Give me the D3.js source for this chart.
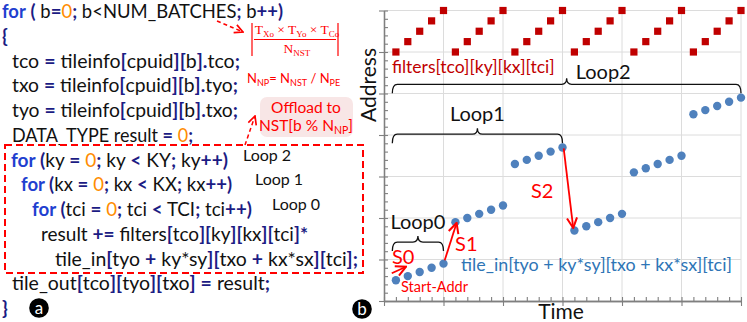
<!DOCTYPE html>
<html>
<head>
<meta charset="utf-8">
<script src="https://cdn.jsdelivr.net/npm/d3@7"></script>
<style>
body { margin: 0; background: #fff; }
text { font-family: Lato, "Open Sans", sans-serif; }
</style>
</head>
<body>
<svg id="fig" width="747" height="322"></svg>
<script>
// ---- panel b data ----
var steps = d3.range(1, 31);
var inputAddr = [2.5, 3, 3.5, 4, 4.5,
                 9.5, 10, 10.5, 11, 11.5,
                 16.5, 17, 17.5, 18, 18.5,
                 8.5, 9, 9.5, 10, 10.5,
                 15.5, 16, 16.5, 17, 17.5,
                 22.5, 23, 23.5, 24, 24.5];
var filterAddr = [30, 31.25, 32.5, 33.75, 35,
                  30, 31.25, 32.5, 33.75, 35,
                  30, 31.25, 32.5, 33.75, 35,
                  30, 31.25, 32.5, 33.75, 35,
                  30, 31.25, 32.5, 33.75, 35,
                  30, 31.25, 32.5, 33.75, 35];
var loops = [
  {name: "Loop0", from: 0.7, to: 5,  at: 7.1,  labelShift: 0, labelUp: 13},
  {name: "Loop1", from: 0.7, to: 15, at: 20.1, labelShift: 0, labelUp: 13},
  {name: "Loop2", from: 0.7, to: 30, at: 26.1, labelShift: 9, labelUp: 5}
];
var strides = [
  {name: "S0", t0: 0.65, a0: 3.34, t1: 1.85, a1: 4.13, lt: 0.67, la: 4.46},
  {name: "S1", t0: 5.1,  a0: 4.9,  t1: 6.1,  a1: 9.4,  lt: 5.97, la: 6.02},
  {name: "S2", t0: 15.1, a0: 18.4, t1: 15.9, a1: 8.8,  lt: 12.35, la: 12.4}
];

// ---- panel a: code listing, segments [text, kind] ----
var code = [
  [["for", "k"], [" ", "t"], ["(", "p"], [" b", "t"], ["=", "p"], ["0", "n"], [";", "p"], [" b<NUM_BATCHES", "t"], [";", "p"], [" b", "t"], ["++)", "p"]],
  [["{", "p"]],
  [["tco ", "t"], ["=", "p"], [" tileinfo", "t"], ["[", "p"], ["cpuid", "t"], ["][", "p"], ["b", "t"], ["].", "p"], ["tco", "t"], [";", "p"]],
  [["txo ", "t"], ["=", "p"], [" tileinfo", "t"], ["[", "p"], ["cpuid", "t"], ["][", "p"], ["b", "t"], ["].", "p"], ["tyo", "t"], [";", "p"]],
  [["tyo ", "t"], ["=", "p"], [" tileinfo", "t"], ["[", "p"], ["cpuid", "t"], ["][", "p"], ["b", "t"], ["].", "p"], ["txo", "t"], [";", "p"]],
  [["DATA_TYPE result ", "t"], ["=", "p"], [" ", "t"], ["0", "n"], [";", "p"]],
  [["for", "k"], [" (", "p"], ["ky ", "t"], ["=", "p"], [" ", "t"], ["0", "n"], [";", "p"], [" ky ", "t"], ["<", "p"], [" KY", "t"], [";", "p"], [" ky", "t"], ["++)", "p"]],
  [["for", "k"], [" (", "p"], ["kx ", "t"], ["=", "p"], [" ", "t"], ["0", "n"], [";", "p"], [" kx ", "t"], ["<", "p"], [" KX", "t"], [";", "p"], [" kx", "t"], ["++)", "p"]],
  [["for", "k"], [" (", "p"], ["tci ", "t"], ["=", "p"], [" ", "t"], ["0", "n"], [";", "p"], [" tci ", "t"], ["<", "p"], [" TCI", "t"], [";", "p"], [" tci", "t"], ["++)", "p"]],
  [["result ", "t"], ["+=", "p"], [" filters", "t"], ["[", "p"], ["tco", "t"], ["][", "p"], ["ky", "t"], ["][", "p"], ["kx", "t"], ["][", "p"], ["tci", "t"], ["]*", "p"]],
  [["tile_in", "t"], ["[", "p"], ["tyo ", "t"], ["+", "p"], [" ky*sy", "t"], ["][", "p"], ["txo ", "t"], ["+", "p"], [" kx*sx", "t"], ["][", "p"], ["tci", "t"], ["];", "p"]],
  [["tile_out", "t"], ["[", "p"], ["tco", "t"], ["][", "p"], ["tyo", "t"], ["][", "p"], ["txo", "t"], ["]", "p"], [" ", "t"], ["=", "p"], [" result", "t"], [";", "p"]],
  [["}", "p"]]
];
var indent  = [2, 2, 12, 12, 12, 12, 11, 21, 32, 41, 55, 12, 2];
var lineEnd = [283, 0, 240, 238, 238, 193, 228, 232, 252, 308, 358, 270, 0];
var loopNotes = [{name: "Loop 2", line: 6, x: 243}, {name: "Loop 1", line: 7, x: 255}, {name: "Loop 0", line: 8, x: 272}];

var colors = {k: "#1f3fd0", p: "#1c1c84", n: "#ff8c00", t: "#111"};
var RED = "#ff0000", DARKRED = "#c00000", BLUE = "#4f81bd", TXTBLUE = "#2e75b6";

var svg = d3.select("#fig");
var defs = svg.append("defs");
function arrowMarker(id, col) {
  defs.append("marker").attr("id", id)
    .attr("viewBox", "0 0 10 10").attr("refX", 9).attr("refY", 5)
    .attr("markerWidth", 7).attr("markerHeight", 7).attr("orient", "auto")
    .append("path").attr("d", "M1,1 L9,5 L1,9")
    .attr("fill", "none").attr("stroke", col).attr("stroke-width", 1.6);
}
arrowMarker("arr", RED);

// ================= panel a =================
var ga = svg.append("g");
var lineY = function(i) { return 18 + i * 24.75; };
var codeText = ga.selectAll("text.code").data(code).join("text")
  .attr("class", "code")
  .attr("x", function(d, i) { return indent[i]; })
  .attr("y", function(d, i) { return lineY(i); })
  .attr("font-size", 19)
  .style("white-space", "pre");
codeText.selectAll("tspan").data(function(d) { return d; }).join("tspan")
  .text(function(d) { return d[0]; })
  .attr("fill", function(d) { return colors[d[1]]; })
  .attr("font-weight", function(d) { return d[1] === "p" || d[1] === "k" ? "bold" : null; });
// fit font so "result += ..." line spans about 267px, then stretch each line to its width
var refLen = codeText.filter(function(d, i) { return i === 9; }).node().getComputedTextLength();
codeText.attr("font-size", 19 * 267 / refLen);
codeText.each(function(d, i) {
  if (lineEnd[i]) d3.select(this).attr("textLength", lineEnd[i] - indent[i])
    .attr("lengthAdjust", "spacingAndGlyphs");
});

ga.selectAll("text.loopnote").data(loopNotes).join("text")
  .attr("class", "loopnote")
  .attr("x", function(d) { return d.x; })
  .attr("y", function(d) { return lineY(d.line) - 6; })
  .attr("font-size", 16).attr("fill", "#111")
  .text(function(d) { return d.name; });

// dashed box around the inner loops
ga.append("rect").attr("x", 5).attr("y", 145).attr("width", 358).attr("height", 128)
  .attr("fill", "none").attr("stroke", RED).attr("stroke-width", 2)
  .attr("stroke-dasharray", "7,4");

// dashed arrows
ga.append("line").attr("x1", 217).attr("y1", 21).attr("x2", 243).attr("y2", 32)
  .attr("stroke", RED).attr("stroke-width", 1.5).attr("stroke-dasharray", "4,3")
  .attr("marker-end", "url(#arr)");
ga.append("line").attr("x1", 245).attr("y1", 145).attr("x2", 255).attr("y2", 116)
  .attr("stroke", RED).attr("stroke-width", 1.5).attr("stroke-dasharray", "4,3")
  .attr("marker-end", "url(#arr)");

// formula |Txo x Tyo x Tco / N_NST|
var fm = ga.append("g").attr("stroke", RED).attr("stroke-width", 1.2);
fm.append("line").attr("x1", 252).attr("x2", 252).attr("y1", 23).attr("y2", 56);
fm.append("line").attr("x1", 338).attr("x2", 338).attr("y1", 23).attr("y2", 56);
fm.append("line").attr("x1", 254).attr("x2", 336).attr("y1", 39.5).attr("y2", 39.5);
var serif = "'Liberation Serif', 'DejaVu Serif', serif";
var num = ga.append("text").attr("x", 297).attr("y", 34).attr("text-anchor", "middle")
  .attr("fill", RED).attr("font-size", 13.5).style("font-family", serif);
[["T", 0], ["Xo", 1], [" \u00d7 T", 0], ["Yo", 1], [" \u00d7 T", 0], ["Co", 1]].forEach(function(s, i) {
  var t = num.append("tspan").text(s[0]);
  if (s[1]) t.attr("font-size", 9).attr("dy", 2.5); else if (i > 0) t.attr("dy", -2.5);
});
var den = ga.append("text").attr("x", 297).attr("y", 53).attr("text-anchor", "middle")
  .attr("fill", RED).attr("font-size", 13.5).style("font-family", serif);
den.append("tspan").text("N");
den.append("tspan").text("NST").attr("font-size", 9).attr("dy", 2.5);

// N_NP = N_NST / N_PE
var np = ga.append("text").attr("x", 247).attr("y", 83).attr("fill", RED).attr("font-size", 13);
[["N", 0], ["NP", 1], ["= N", 0], ["NST", 1], [" / N", 0], ["PE", 1]].forEach(function(s, i) {
  var t = np.append("tspan").text(s[0]);
  if (s[1]) t.attr("font-size", 9).attr("dy", 3); else if (i > 0) t.attr("dy", -3);
});

// offload box
ga.append("rect").attr("x", 260).attr("y", 97).attr("width", 93).attr("height", 40).attr("rx", 7)
  .attr("fill", "#f8e6e6");
ga.append("text").attr("x", 306).attr("y", 113).attr("text-anchor", "middle")
  .attr("fill", RED).attr("font-size", 15.5).text("Offload to");
var off2 = ga.append("text").attr("x", 306).attr("y", 131).attr("text-anchor", "middle")
  .attr("fill", RED).attr("font-size", 15.5);
off2.append("tspan").text("NST[b % N");
off2.append("tspan").text("NP").attr("font-size", 10.5).attr("dy", 3);
off2.append("tspan").text("]").attr("dy", -3);

// ================= panel b =================
var x = d3.scaleLinear().domain([0, 30]).range([384, 741]);
var y = d3.scaleLinear().domain([0, 35]).range([301, 10.5]);
var gb = svg.append("g");

// grid
gb.selectAll("line.vg").data(d3.range(5, 31, 5)).join("line").attr("class", "vg")
  .attr("x1", x).attr("x2", x).attr("y1", y(0)).attr("y2", y(35))
  .attr("stroke", "#dcdcdc").attr("stroke-width", 1);
gb.selectAll("line.hg").data(d3.range(5, 36, 5)).join("line").attr("class", "hg")
  .attr("y1", y).attr("y2", y).attr("x1", x(0)).attr("x2", x(30))
  .attr("stroke", "#dcdcdc").attr("stroke-width", 1);

// axes: minor ticks inside, major ticks across
function styleAxis(g) {
  g.select(".domain").attr("stroke", "#7f7f7f").attr("stroke-width", 1.3);
  g.selectAll(".tick line").attr("stroke", "#7f7f7f").attr("stroke-width", 1.1);
  g.selectAll(".tick text").remove();
}
gb.append("g").attr("transform", "translate(" + x(0) + ",0)")
  .call(d3.axisLeft(y).tickValues(d3.range(0, 36, 1)).tickSize(-4).tickSizeOuter(0)).call(styleAxis);
gb.append("g").attr("transform", "translate(" + x(0) + ",0)")
  .call(d3.axisLeft(y).tickValues(d3.range(0, 36, 5)).tickSize(5).tickSizeOuter(0)).call(styleAxis);
gb.append("g").attr("transform", "translate(0," + y(0) + ")")
  .call(d3.axisBottom(x).tickValues(d3.range(0, 31, 1)).tickSize(-4).tickSizeOuter(0)).call(styleAxis);
gb.append("g").attr("transform", "translate(0," + y(0) + ")")
  .call(d3.axisBottom(x).tickValues(d3.range(0, 31, 5)).tickSize(5).tickSizeOuter(0)).call(styleAxis);

gb.append("text").attr("transform", "translate(376,85) rotate(-90)").attr("text-anchor", "middle")
  .attr("font-size", 21).attr("fill", "#111").text("Address");
gb.append("text").attr("x", 561).attr("y", 319).attr("text-anchor", "middle")
  .attr("font-size", 21).attr("fill", "#111").text("Time");

// filter accesses (squares)
gb.selectAll("rect.f").data(steps).join("rect").attr("class", "f")
  .attr("x", function(d) { return x(d) - 3.6; })
  .attr("y", function(d, i) { return y(filterAddr[i]) - 3.6; })
  .attr("width", 7.2).attr("height", 7.2).attr("fill", DARKRED);

// loop braces
gb.selectAll("path.brace").data(loops).join("path").attr("class", "brace")
  .attr("fill", "none").attr("stroke", "#111").attr("stroke-width", 1.3)
  .attr("d", function(d) {
    var x0 = x(d.from), x1 = x(d.to), xm = (x0 + x1) / 2, yy = y(d.at);
    return "M" + x0 + "," + (yy + 9) + " Q" + x0 + "," + yy + " " + (x0 + 5) + "," + yy +
      " L" + (xm - 5) + "," + yy + " Q" + xm + "," + yy + " " + xm + "," + (yy - 6) +
      " Q" + xm + "," + yy + " " + (xm + 5) + "," + yy +
      " L" + (x1 - 5) + "," + yy + " Q" + x1 + "," + yy + " " + x1 + "," + (yy + 9);
  });
gb.selectAll("text.loop").data(loops).join("text").attr("class", "loop")
  .attr("x", function(d) { return (x(d.from) + x(d.to)) / 2 + d.labelShift; })
  .attr("y", function(d) { return y(d.at) - d.labelUp; })
  .attr("text-anchor", function(d) { return d.labelShift ? "start" : "middle"; })
  .attr("font-size", 20).attr("fill", "#111").text(function(d) { return d.name; });

// input accesses (dots)
gb.selectAll("circle.in").data(steps).join("circle").attr("class", "in")
  .attr("cx", function(d) { return x(d); })
  .attr("cy", function(d, i) { return y(inputAddr[i]); })
  .attr("r", 4.2).attr("fill", BLUE);

// stride arrows and labels
gb.selectAll("line.s").data(strides).join("line").attr("class", "s")
  .attr("x1", function(d) { return x(d.t0); }).attr("y1", function(d) { return y(d.a0); })
  .attr("x2", function(d) { return x(d.t1); }).attr("y2", function(d) { return y(d.a1); })
  .attr("stroke", RED).attr("stroke-width", 1.8).attr("marker-end", "url(#arr)");
gb.selectAll("text.s").data(strides).join("text").attr("class", "s")
  .attr("x", function(d) { return x(d.lt); }).attr("y", function(d) { return y(d.la); })
  .attr("font-size", 20).attr("fill", RED).text(function(d) { return d.name; });

gb.append("text").attr("x", x(0.67)).attr("y", y(27.5)).attr("font-size", 17.5)
  .attr("fill", DARKRED).text("filters[tco][ky][kx][tci]");
gb.append("text").attr("x", x(6.47)).attr("y", y(3.6)).attr("font-size", 17.9)
  .attr("fill", TXTBLUE).text("tile_in[tyo + ky*sy][txo + kx*sx][tci]");
gb.append("text").attr("x", x(1.43)).attr("y", y(1.08)).attr("font-size", 14.5)
  .attr("fill", RED).text("Start-Addr");

// panel badges
[["a", 39, 308], ["b", 362, 309]].forEach(function(b) {
  svg.append("circle").attr("cx", b[1]).attr("cy", b[2]).attr("r", 9.8).attr("fill", "#000");
  svg.append("text").attr("x", b[1]).attr("y", b[2] + 5.5).attr("text-anchor", "middle")
    .attr("font-size", 17).attr("fill", "#fff").text(b[0]);
});
</script>
</body>
</html>
